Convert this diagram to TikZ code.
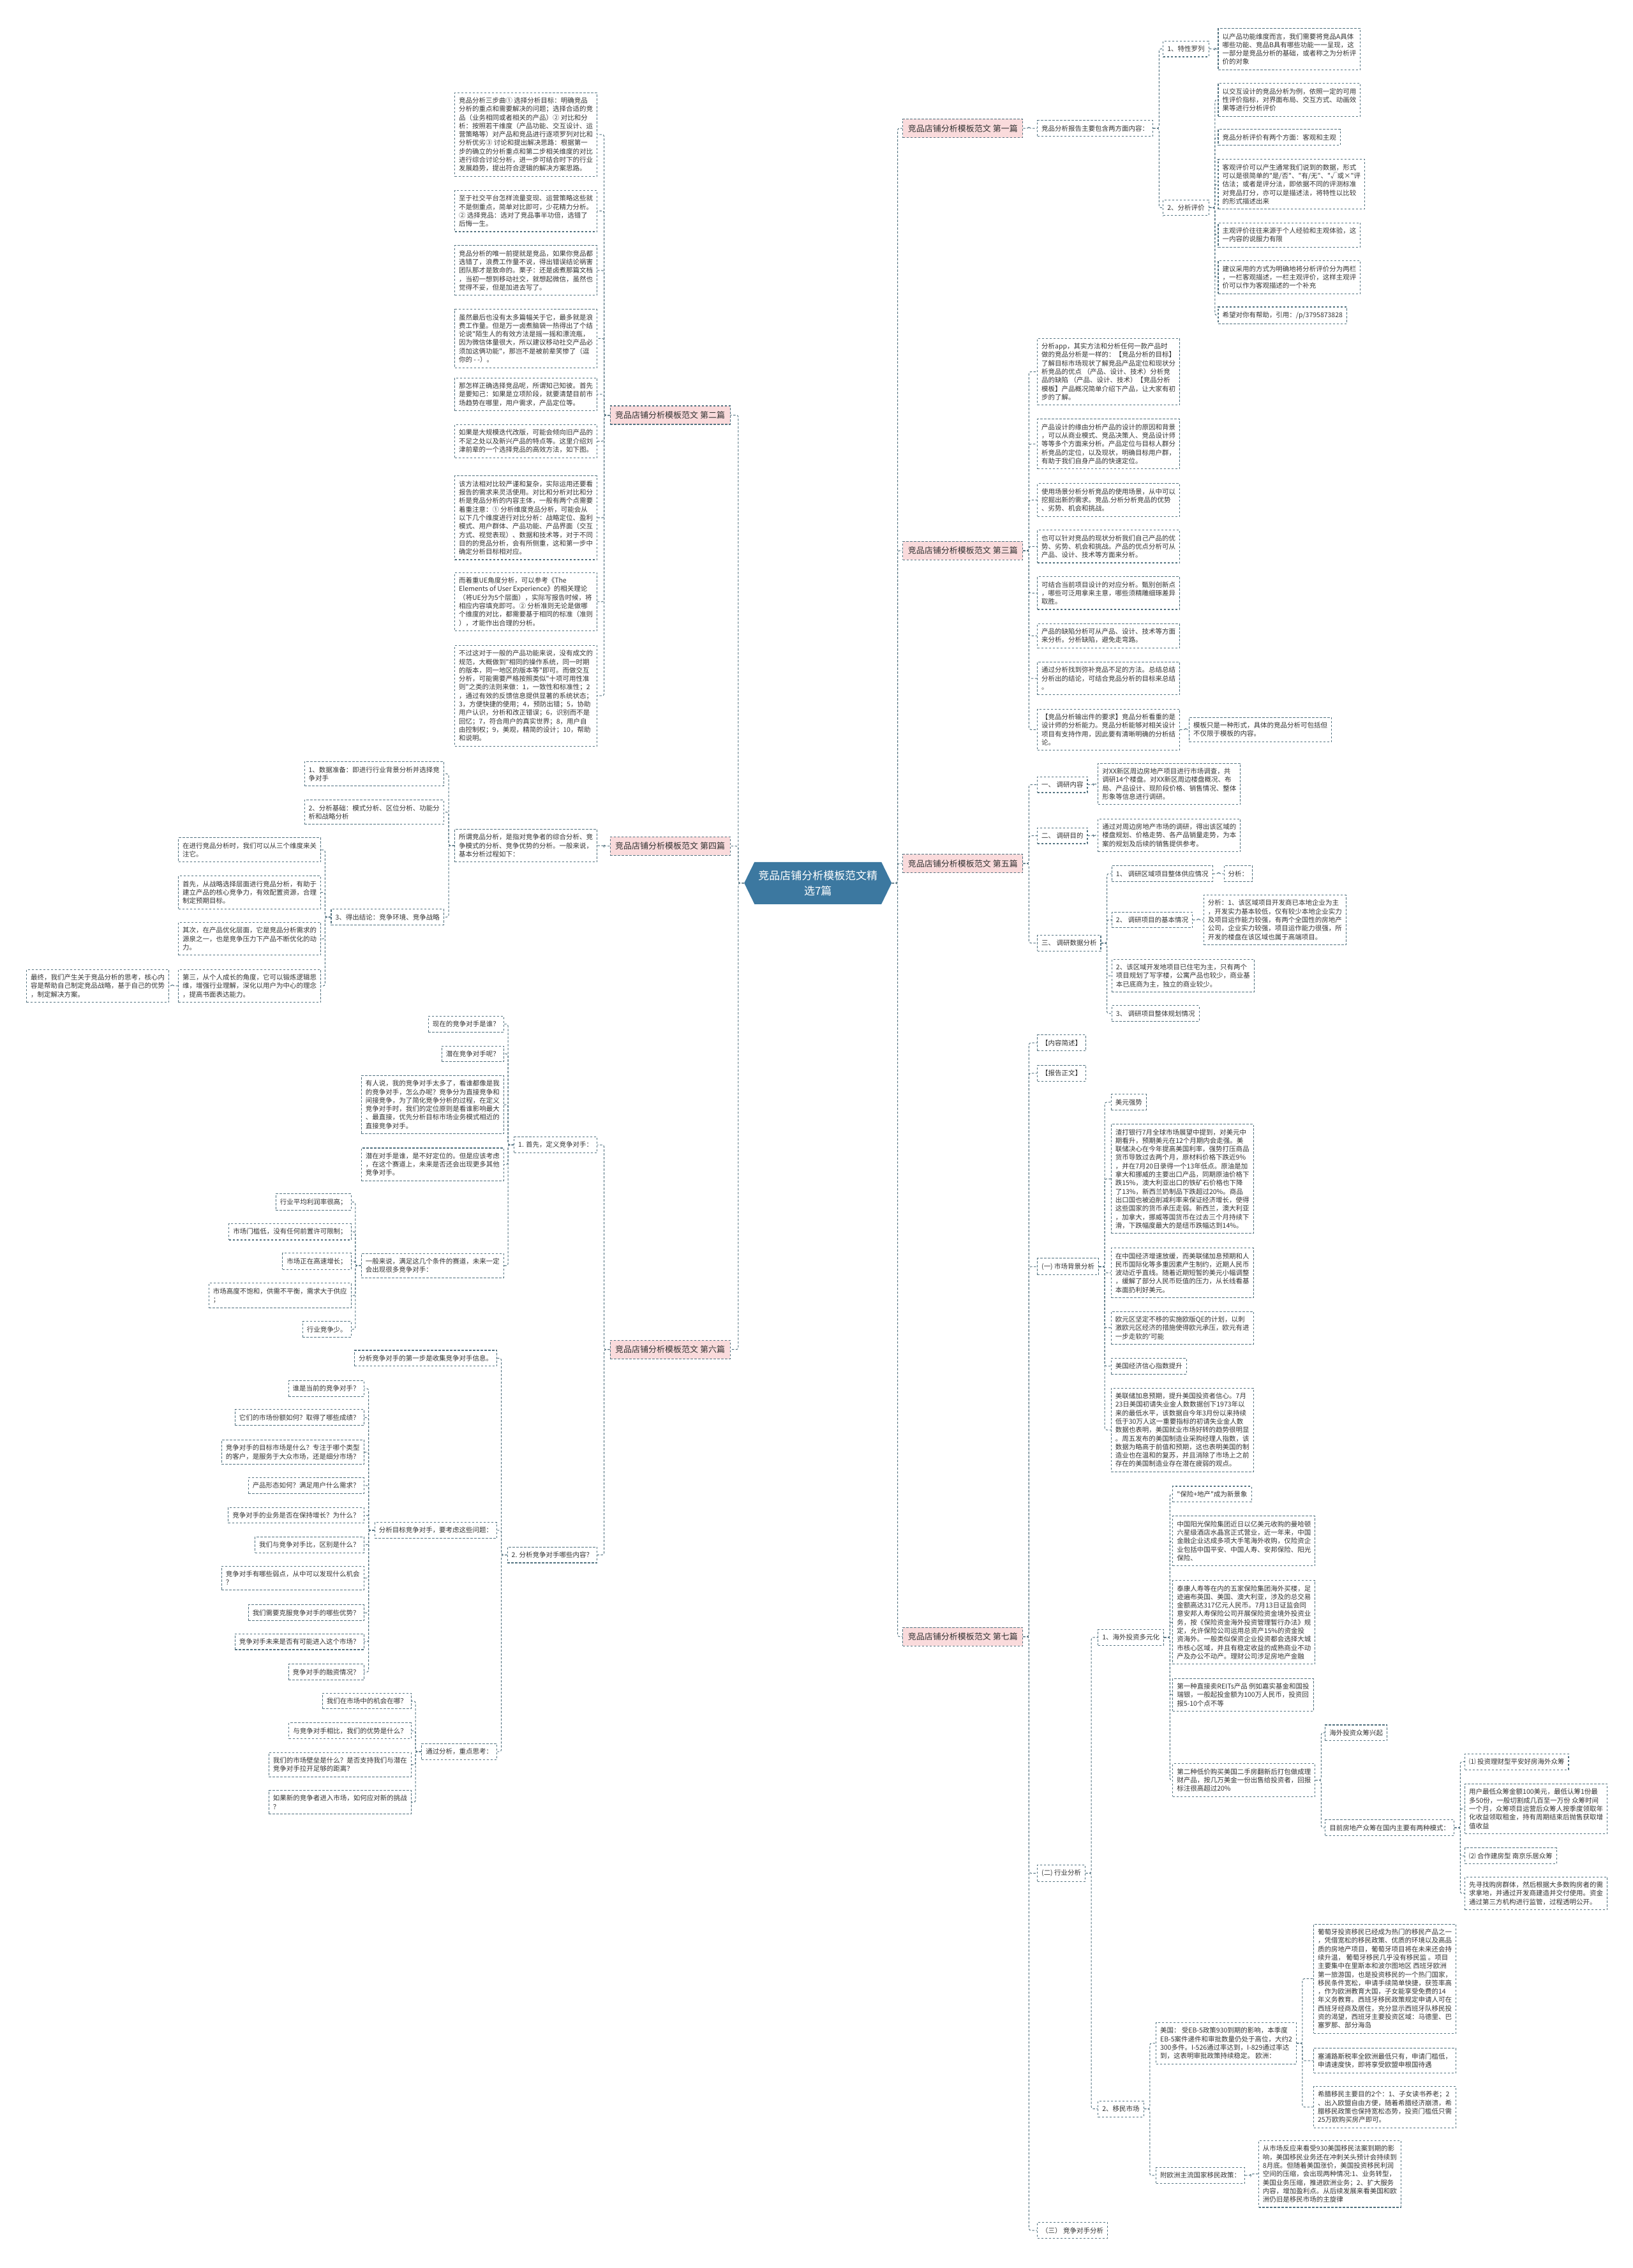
\documentclass[tikz,border=0pt]{standalone}
\usepackage{fontspec}
\newfontfamily\cjk{Noto Sans CJK SC}
\usetikzlibrary{shapes.symbols}
\definecolor{linkc}{RGB}{82,114,128}
\definecolor{pinkc}{RGB}{250,219,220}
\definecolor{rootc}{RGB}{60,120,160}
\definecolor{txtc}{RGB}{51,51,51}

\begin{document}
\begin{tikzpicture}[x=2.2675pt, y=-2.2675pt,
    mmbox/.style={draw=linkc, dash pattern=on 3.5pt off 2.5pt, line width=1.1pt, fill=white,
      text=txtc, font=\cjk\fontsize{10.5}{13.3}\selectfont, align=left,
      inner xsep=6.5pt, inner ysep=7.5pt},
    rbox/.style={mmbox, anchor=west},
    lbox/.style={mmbox, anchor=east},
    lvlone/.style={mmbox, fill=pinkc, font=\cjk\fontsize{13}{16}\selectfont,
      inner xsep=8pt, inner ysep=4pt, minimum height=29pt},
    rootnode/.style={signal, signal to=west and east, signal pointer angle=128, fill=rootc,
      text=white, font=\cjk\fontsize{17}{24}\selectfont, align=center,
      inner xsep=6pt, minimum height=66pt},
    link/.style={draw=linkc, dash pattern=on 3.5pt off 2.5pt, line width=1pt, rounded corners=3pt}]
    \useasboundingbox (0,0) rectangle (1129,1568);
    \fill[white] (0,0) rectangle (1129,1568);

    % centre
    \node[rootnode] (root) at (565.5,610.5) {竞品店铺分析模板范文精\\选7篇};

    % first
    \node[lvlone, anchor=west] (r1) at (624,88.7) {竞品店铺分析模板范文 第一篇};
    \node[rbox] (r1a) at (717,88.7) {竞品分析报告主要包含两方面内容：};
    \node[rbox] (r1b) at (804,33.8) {1、特性罗列};
    \node[rbox] (r1b1) at (842,34) {以产品功能维度而言，我们需要将竞品A具体\\哪些功能、竞品B具有哪些功能一一呈现，这\\一部分是竞品分析的基础，或者称之为分析评\\价的对象};
    \node[rbox] (r1c) at (804,143.6) {2、分析评价};
    \node[rbox] (r1c1) at (842,69) {以交互设计的竞品分析为例，依照一定的可用\\性评价指标，对界面布局、交互方式、动画效\\果等进行分析评价};
    \node[rbox] (r1c2) at (842,95) {竞品分析评价有两个方面：客观和主观};
    \node[rbox] (r1c3) at (842,127.4) {客观评价可以产生通常我们说到的数据，形式\\可以是很简单的"是/否"、"有/无"、"√或×"评\\估法；或者是评分法，即依据不同的评测标准\\对竞品打分，亦可以是描述法，将特性以比较\\的形式描述出来};
    \node[rbox] (r1c4) at (842,162.5) {主观评价往往来源于个人经验和主观体验，这\\一内容的说服力有限};
    \node[rbox] (r1c5) at (842,191.7) {建议采用的方式为明确地将分析评价分为两栏\\，一栏客观描述，一栏主观评价，这样主观评\\价可以作为客观描述的一个补充};
    \node[rbox] (r1c6) at (842,218) {希望对你有帮助，引用：/p/3795873828};

    % third
    \node[lvlone, anchor=west] (r3) at (624,380.7) {竞品店铺分析模板范文 第三篇};
    \node[rbox] (r3a) at (717,257) {分析app，其实方法和分析任何一款产品时\\做的竞品分析是一样的：【竞品分析的目标】\\了解目标市场现状了解竞品产品定位和现状分\\析竞品的优点 （产品、设计、技术）分析竞\\品的缺陷 （产品、设计、技术）【竞品分析\\模板】产品概况简单介绍下产品，让大家有初\\步的了解。};
    \node[rbox] (r3b) at (717,307) {产品设计的缘由分析产品的设计的原因和背景\\，可以从商业模式、竞品决策人、竞品设计师\\等等多个方面来分析。产品定位与目标人群分\\析竞品的定位，以及现状，明确目标用户群，\\有助于我们自身产品的快速定位。};
    \node[rbox] (r3c) at (717,345.7) {使用场景分析分析竞品的使用场景，从中可以\\挖掘出新的需求。竞品.分析分析竞品的优势\\、劣势、机会和挑战。};
    \node[rbox] (r3d) at (717,377.8) {也可以针对竞品的现状分析我们自己产品的优\\势、劣势、机会和挑战。产品的优点分析可从\\产品、设计、技术等方面来分析。};
    \node[rbox] (r3e) at (717,410) {可结合当前项目设计的对应分析。甄别创新点\\，哪些可泛用拿来主意，哪些须精雕细琢差异\\取胜。};
    \node[rbox] (r3f) at (717,439.6) {产品的缺陷分析可从产品、设计、技术等方面\\来分析。分析缺陷，避免走弯路。};
    \node[rbox] (r3g) at (717,469) {通过分析找到弥补竞品不足的方法。总结总结\\分析出的结论，可结合竞品分析的目标来总结\\。};
    \node[rbox] (r3h) at (717,504.4) {【竞品分析输出件的要求】竞品分析看重的是\\设计师的分析能力。竞品分析能够对相关设计\\项目有支持作用，因此要有清晰明确的分析结\\论。};
    \node[rbox] (r3h1) at (822,504.4) {模板只是一种形式，具体的竞品分析可包括但\\不仅限于模板的内容。};

    % fifth
    \node[lvlone, anchor=west] (r5) at (624,597) {竞品店铺分析模板范文 第五篇};
    \node[rbox] (r5a) at (717,542.5) {一、 调研内容};
    \node[rbox] (r5a1) at (759,542) {对XX新区周边房地产项目进行市场调查，共\\调研14个楼盘。对XX新区周边楼盘概况、布\\局、产品设计、现阶段价格、销售情况、整体\\形象等信息进行调研。};
    \node[rbox] (r5b) at (717,577.8) {二、 调研目的};
    \node[rbox] (r5b1) at (759,577.5) {通过对周边房地产市场的调研，得出该区域的\\楼盘规划、价格走势、各产品销量走势，为本\\案的规划及后续的销售提供参考。};
    \node[rbox] (r5c) at (717,652) {三、 调研数据分析};
    \node[rbox] (r5c1) at (768.5,604) {1、 调研区域项目整体供应情况};
    \node[rbox] (r5c1a) at (846,604) {分析：};
    \node[rbox] (r5c2) at (768.5,636) {2、 调研项目的基本情况};
    \node[rbox] (r5c2a) at (832,636) {分析：1、该区域项目开发商已本地企业为主\\，开发实力基本较低，仅有较少本地企业实力\\及项目运作能力较强，有两个全国性的房地产\\公司，企业实力较强，项目运作能力很强，所\\开发的楼盘在该区域也属于高端项目。};
    \node[rbox] (r5c3) at (768.5,674.6) {2、该区域开发地项目已住宅为主，只有两个\\项目规划了写字楼，公寓产品也较少，商业基\\本已底商为主，独立的商业较少。};
    \node[rbox] (r5c4) at (768.5,700.7) {3、 调研项目整体规划情况};

    % seventh
    \node[lvlone, anchor=west] (r7) at (624,1131.5) {竞品店铺分析模板范文 第七篇};
    \node[rbox] (r7a) at (717,721) {【内容简述】};
    \node[rbox] (r7b) at (717,742) {【报告正文】};
    \node[rbox] (r7c) at (717,875.7) {(一) 市场背景分析};
    \node[rbox] (r7c1) at (768,762) {美元强势};
    \node[rbox] (r7c2) at (768,815) {渣打银行7月全球市场展望中提到，对美元中\\期看升，预期美元在12个月期内会走强。美\\联储决心在今年提高美国利率，强势打压商品\\货币导致过去两个月，原材料价格下跌近9\%\\，并在7月20日录得一个13年低点。原油是加\\拿大和挪威的主要出口产品，同期原油价格下\\跌15\%，澳大利亚出口的铁矿石价格也下降\\了13\%，新西兰奶制品下跌超过20\%。商品\\出口国也被迫削减利率来保证经济增长，使得\\这些国家的货币承压走弱。新西兰，澳大利亚\\，加拿大，挪威等国货币在过去三个月持续下\\滑，下跌幅度最大的是纽币跌幅达到14\%。};
    \node[rbox] (r7c3) at (768,880) {在中国经济增速放缓，而美联储加息预期和人\\民币国际化等多重因素产生制约，近期人民币\\波动近乎直线。随着近期短暂的美元小幅调整\\，缓解了部分人民币贬值的压力，从长线看基\\本面扔利好美元。};
    \node[rbox] (r7c4) at (768,918) {欧元区坚定不移的实施欧版QE的计划，以刺\\激欧元区经济的措施使得欧元承压，欧元有进\\一步走软的'可能};
    \node[rbox] (r7c5) at (768,944.5) {美国经济信心指数提升};
    \node[rbox] (r7c6) at (768,988.6) {美联储加息预期，提升美国投资者信心。7月\\23日美国初请失业金人数数据创下1973年以\\来的最低水平，该数据自今年3月份以来持续\\低于30万人这一重要指标的初请失业金人数\\数据也表明，美国就业市场好转的趋势很明显\\。周五发布的美国制造业采购经理人指数，该\\数据为略高于前值和预期，这也表明美国的制\\造业也在温和的复苏，并且消除了市场上之前\\存在的美国制造业存在潜在疲弱的观点。};
    \node[rbox] (r7d) at (717,1295) {(二) 行业分析};
    \node[rbox] (r7d1) at (759,1132) {1、海外投资多元化};
    \node[rbox] (r7d1a) at (810.6,1033) {"保险+地产"成为新景象};
    \node[rbox] (r7d1b) at (810.6,1065.4) {中国阳光保险集团近日以亿美元收购的曼哈顿\\六星级酒店水晶宫正式营业，近一年来，中国\\金融企业达成多项大手笔海外收购，仅险资企\\业包括中国平安、中国人寿、安邦保险、阳光\\保险、};
    \node[rbox] (r7d1c) at (810.6,1121.6) {泰康人寿等在内的五家保险集团海外买楼，足\\迹遍布英国、美国、澳大利亚，涉及的总交易\\金额高达317亿元人民币。7月13日证监会同\\意安邦人寿保险公司开展保险资金境外投资业\\务，按《保险资金海外投资管理暂行办法》规\\定，允许保险公司运用总资产15\%的资金投\\资海外。一般类似保资企业投资都会选择大城\\市核心区域，并且有稳定收益的成熟商业不动\\产及办公不动产。理财公司涉足房地产金融};
    \node[rbox] (r7d1d) at (810.6,1171.7) {第一种直接卖REITs产品 例如嘉实基金和国投\\瑞银，一般起投金额为100万人民币，投资回\\报5-10个点不等};
    \node[rbox] (r7d1e) at (810.6,1230.7) {第二种低价购买美国二手房翻新后打包做成理\\财产品，按几万美金一份出售给投资者，回报\\标注很高超过20\%};
    \node[rbox] (r7d1e1) at (916,1198) {海外投资众筹兴起};
    \node[rbox] (r7d1e2) at (916,1263.6) {目前房地产众筹在国内主要有两种模式：};
    \node[rbox] (r7d1e2a) at (1012.6,1218) {⑴ 投资理财型平安好房海外众筹};
    \node[rbox] (r7d1e2b) at (1012.6,1250.5) {用户最低众筹金额100美元，最低认筹1份最\\多50份，一般切割成几百至一万份 众筹时间\\一个月，众筹项目运营后众筹人按季度领取年\\化收益领取租金，持有周期结束后抛售获取增\\值收益};
    \node[rbox] (r7d1e2c) at (1012.6,1283) {⑵ 合作建房型 南京乐居众筹};
    \node[rbox] (r7d1e2d) at (1012.6,1309) {先寻找购房群体，然后根据大多数购房者的需\\求拿地，并通过开发商建造并交付使用。资金\\通过第三方机构进行监管，过程透明公开。};
    \node[rbox] (r7d2) at (759,1458) {2、移民市场};
    \node[rbox] (r7d2a) at (799,1412.6) {美国： 受EB-5政策930到期的影响，本季度\\EB-5案件递件和审批数量仍处于高位，大约2\\300多件。I-526通过率达到，I-829通过率达\\到，这表明审批政策持续稳定。 欧洲：};
    \node[rbox] (r7d2a1) at (908,1368) {葡萄牙投资移民已经成为热门的移民产品之一\\，凭借宽松的移民政策、优质的环境以及高品\\质的房地产项目，葡萄牙项目将在未来还会持\\续升温， 葡萄牙移民几乎没有移民监 。项目\\主要集中在里斯本和波尔图地区 西班牙欧洲\\第一旅游国，也是投资移民的一个热门国家，\\移民条件宽松，申请手续简单快捷，获签率高\\，作为欧洲教育大国，子女能享受免费的14\\年义务教育。西班牙移民政策规定申请人可在\\西班牙经商及居住，充分显示西班牙队移民投\\资的渴望，西班牙主要投资区域：马德里、巴\\塞罗那、部分海岛};
    \node[rbox] (r7d2a2) at (908,1424.6) {塞浦路斯税率全欧洲最低只有，申请门槛低，\\申请速度快，即将享受欧盟申根国待遇};
    \node[rbox] (r7d2a3) at (908,1456.7) {希腊移民主要目的2个：1、子女读书养老；2\\、出入欧盟自由方便，随着希腊经济崩溃，希\\腊移民政策也保持宽松态势，投资门槛低只需\\25万欧购买房产即可。};
    \node[rbox] (r7d2b) at (799,1504) {附欧洲主流国家移民政策：};
    \node[rbox] (r7d2b1) at (870,1503) {从市场反应来看受930美国移民法案到期的影\\响，美国移民业务还在冲刺关头预计会持续到\\8月底。但随着美国涨价，美国投资移民利润\\空间的压缩，会出现两种情况:1、业务转型，\\美国业务压缩，推进欧洲业务；2、扩大服务\\内容，增加盈利点。从后续发展来看美国和欧\\洲仍旧是移民市场的主旋律};
    \node[rbox] (r7e) at (717,1542) {（三） 竞争对手分析};

    % second
    \node[lvlone, anchor=east] (l2) at (505,287) {竞品店铺分析模板范文 第二篇};
    \node[lbox] (l2a) at (413,93) {竞品分析三步曲① 选择分析目标：明确竞品\\分析的重点和需要解决的问题；选择合适的竞\\品（业务相同或者相关的产品）② 对比和分\\析：按照若干维度（产品功能、交互设计、运\\营策略等）对产品和竞品进行逐项罗列对比和\\分析优劣③ 讨论和提出解决思路：根据第一\\步的确立的分析重点和第二步相关维度的对比\\进行综合讨论分析，进一步可结合时下的行业\\发展趋势，提出符合逻辑的解决方案思路。};
    \node[lbox] (l2b) at (413,145.9) {至于社交平台怎样流量变现、运营策略这些就\\不是侧重点，简单对比即可，少花精力分析。\\② 选择竞品：选对了竞品事半功倍，选错了\\后悔一生。};
    \node[lbox] (l2c) at (413,187) {竞品分析的唯一前提就是竞品，如果你竞品都\\选错了，浪费工作量不说，得出错误结论祸害\\团队那才是致命的。栗子：还是卤煮那篇文档\\，当初一想到移动社交，就想起微信，虽然也\\觉得不妥，但是加进去写了。};
    \node[lbox] (l2d) at (413,234) {虽然最后也没有太多篇幅关于它，最多就是浪\\费工作量。但是万一卤煮脑袋一热得出了个结\\论说"陌生人的有效方法是摇一摇和漂流瓶，\\因为微信体量很大，所以建议移动社交产品必\\须加这俩功能"，那岂不是被前辈笑惨了（逗\\你的 - -）。};
    \node[lbox] (l2e) at (413,272.6) {那怎样正确选择竞品呢，所谓知己知彼。首先\\是要知己：如果是立项阶段，就要清楚目前市\\场趋势在哪里，用户需求，产品定位等。};
    \node[lbox] (l2f) at (413,305) {如果是大规模迭代改版，可能会倾向旧产品的\\不足之处以及新兴产品的特点等。这里介绍刘\\津前辈的一个选择竞品的高效方法，如下图。};
    \node[lbox] (l2g) at (413,358) {该方法相对比较严谨和复杂，实际运用还要看\\报告的需求来灵活使用。对比和分析对比和分\\析是竞品分析的内容主体，一般有两个点需要\\着重注意：① 分析维度竞品分析，可能会从\\以下几个维度进行对比分析：战略定位、盈利\\模式、用户群体、产品功能、产品界面（交互\\方式、视觉表现）、数据和技术等，对于不同\\目的的竞品分析，会有所侧重，这和第一步中\\确定分析目标相对应。};
    \node[lbox] (l2h) at (413,416) {而着重UE角度分析，可以参考《The\\Elements of User Experience》的相关理论\\（将UE分为5个层面），实际写报告时候，将\\相应内容填充即可。② 分析准则无论是做哪\\个维度的对比，都需要基于相同的标准（准则\\），才能作出合理的分析。};
    \node[lbox] (l2i) at (413,481) {不过这对于一般的产品功能来说，没有成文的\\规范，大概做到"相同的操作系统，同一时期\\的版本，同一地区的版本等"即可。而做交互\\分析，可能需要严格按照类似"十项可用性准\\则"之类的法则来做：1，一致性和标准性；2\\，通过有效的反馈信息提供显著的系统状态；\\3，方便快捷的使用；4，预防出错；5，协助\\用户认识，分析和改正错误；6，识别而不是\\回忆；7，符合用户的真实世界；8，用户自\\由控制权；9，美观，精简的设计；10，帮助\\和说明。};

    % fourth
    \node[lvlone, anchor=east] (l4) at (505,585) {竞品店铺分析模板范文 第四篇};
    \node[lbox] (l4a) at (413,584.6) {所谓竞品分析，是指对竞争者的综合分析、竞\\争模式的分析、竞争优势的分析。一般来说，\\基本分析过程如下：};
    \node[lbox] (l4a1) at (307,535) {1、数据准备：即进行行业背景分析并选择竞\\争对手};
    \node[lbox] (l4a2) at (307,561.5) {2、分析基础：模式分析、区位分析、功能分\\析和战略分析};
    \node[lbox] (l4a3) at (307,634) {3、得出结论：竞争环境、竞争战略};
    \node[lbox] (l4a3a) at (222,587.6) {在进行竞品分析时，我们可以从三个维度来关\\注它。};
    \node[lbox] (l4a3b) at (222,617) {首先，从战略选择层面进行竞品分析，有助于\\建立产品的核心竞争力，有效配置资源，合理\\制定预期目标。};
    \node[lbox] (l4a3c) at (222,649) {其次，在产品优化层面，它是竞品分析需求的\\源泉之一，也是竞争压力下产品不断优化的动\\力。};
    \node[lbox] (l4a3d) at (222,681.6) {第三，从个人成长的角度，它可以锻炼逻辑思\\维，增强行业理解，深化以用户为中心的理念\\，提高书面表达能力。};
    \node[lbox] (l4a3d1) at (117,681.6) {最终，我们产生关于竞品分析的思考，核心内\\容是帮助自己制定竞品战略，基于自己的优势\\，制定解决方案。};

    % sixth
    \node[lvlone, anchor=east] (l6) at (505,933) {竞品店铺分析模板范文 第六篇};
    \node[lbox] (l6a) at (413,791.5) {1. 首先，定义竞争对手：};
    \node[lbox] (l6a1) at (348.5,708) {现在的竞争对手是谁？};
    \node[lbox] (l6a2) at (348.5,728.6) {潜在竞争对手呢？};
    \node[lbox] (l6a3) at (348.5,763.7) {有人说，我的竞争对手太多了，看谁都像是我\\的竞争对手，怎么办呢？竞争分为直接竞争和\\间接竞争，为了简化竞争分析的过程，在定义\\竞争对手时，我们的定位原则是看谁影响最大\\、最直接，优先分析目标市场业务模式相近的\\直接竞争对手。};
    \node[lbox] (l6a4) at (348.5,805) {潜在对手是谁，是不好定位的。但是应该考虑\\，在这个赛道上，未来是否还会出现更多其他\\竞争对手。};
    \node[lbox] (l6a5) at (348.5,875) {一般来说，满足这几个条件的赛道，未来一定\\会出现很多竞争对手：};
    \node[lbox] (l6a5a) at (243,831) {行业平均利润率很高；};
    \node[lbox] (l6a5b) at (243,851.6) {市场门槛低，没有任何前置许可限制；};
    \node[lbox] (l6a5c) at (243,872) {市场正在高速增长；};
    \node[lbox] (l6a5d) at (243,895.7) {市场高度不饱和，供需不平衡，需求大于供应\\；};
    \node[lbox] (l6a5e) at (243,919) {行业竞争少。};
    \node[lbox] (l6b) at (413,1075) {2. 分析竞争对手哪些内容？};
    \node[lbox] (l6b1) at (343.8,939) {分析竞争对手的第一步是收集竞争对手信息。};
    \node[lbox] (l6b2) at (343.8,1058) {分析目标竞争对手，要考虑这些问题：};
    \node[lbox] (l6b2a) at (251.8,960) {谁是当前的竞争对手？};
    \node[lbox] (l6b2b) at (251.8,980) {它们的市场份额如何？取得了哪些成绩？};
    \node[lbox] (l6b2c) at (251.8,1004) {竞争对手的目标市场是什么？专注于哪个类型\\的客户，是服务于大众市场，还是细分市场？};
    \node[lbox] (l6b2d) at (251.8,1027) {产品形态如何？满足用户什么需求？};
    \node[lbox] (l6b2e) at (251.8,1047.6) {竞争对手的业务是否在保持增长？为什么？};
    \node[lbox] (l6b2f) at (251.8,1068) {我们与竞争对手比，区别是什么？};
    \node[lbox] (l6b2g) at (251.8,1091) {竞争对手有哪些弱点，从中可以发现什么机会\\？};
    \node[lbox] (l6b2h) at (251.8,1115) {我们需要克服竞争对手的哪些优势？};
    \node[lbox] (l6b2i) at (251.8,1135) {竞争对手未来是否有可能进入这个市场？};
    \node[lbox] (l6b2j) at (251.8,1156) {竞争对手的融资情况？};
    \node[lbox] (l6b3) at (343.8,1211) {通过分析，重点思考：};
    \node[lbox] (l6b3a) at (284.5,1176) {我们在市场中的机会在哪？};
    \node[lbox] (l6b3b) at (284.5,1196.6) {与竞争对手相比，我们的优势是什么？};
    \node[lbox] (l6b3c) at (284.5,1220) {我们的市场壁垒是什么？是否支持我们与潜在\\竞争对手拉开足够的距离？};
    \node[lbox] (l6b3d) at (284.5,1246) {如果新的竞争者进入市场，如何应对新的挑战\\？};

    % connectors, right side
    \foreach \p/\c in {root/r1, root/r3, root/r5, root/r7,
        r1/r1a, r1a/r1b, r1a/r1c, r1b/r1b1, r1c/r1c1, r1c/r1c2, r1c/r1c3, r1c/r1c4, r1c/r1c5, r1c/r1c6,
        r3/r3a, r3/r3b, r3/r3c, r3/r3d, r3/r3e, r3/r3f, r3/r3g, r3/r3h, r3h/r3h1,
        r5/r5a, r5/r5b, r5/r5c, r5a/r5a1, r5b/r5b1, r5c/r5c1, r5c/r5c2, r5c/r5c3, r5c/r5c4,
        r5c1/r5c1a, r5c2/r5c2a,
        r7/r7a, r7/r7b, r7/r7c, r7/r7d, r7/r7e,
        r7c/r7c1, r7c/r7c2, r7c/r7c3, r7c/r7c4, r7c/r7c5, r7c/r7c6,
        r7d/r7d1, r7d/r7d2, r7d1/r7d1a, r7d1/r7d1b, r7d1/r7d1c, r7d1/r7d1d, r7d1/r7d1e,
        r7d1e/r7d1e1, r7d1e/r7d1e2, r7d1e2/r7d1e2a, r7d1e2/r7d1e2b, r7d1e2/r7d1e2c, r7d1e2/r7d1e2d,
        r7d2/r7d2a, r7d2/r7d2b, r7d2a/r7d2a1, r7d2a/r7d2a2, r7d2a/r7d2a3, r7d2b/r7d2b1}
      \draw[link] (\p.east) -- ++(4,0) |- (\c.west);

    % connectors, left side
    \foreach \p/\c in {root/l2, root/l4, root/l6,
        l2/l2a, l2/l2b, l2/l2c, l2/l2d, l2/l2e, l2/l2f, l2/l2g, l2/l2h, l2/l2i,
        l4/l4a, l4a/l4a1, l4a/l4a2, l4a/l4a3, l4a3/l4a3a, l4a3/l4a3b, l4a3/l4a3c, l4a3/l4a3d, l4a3d/l4a3d1,
        l6/l6a, l6/l6b, l6a/l6a1, l6a/l6a2, l6a/l6a3, l6a/l6a4, l6a/l6a5,
        l6a5/l6a5a, l6a5/l6a5b, l6a5/l6a5c, l6a5/l6a5d, l6a5/l6a5e,
        l6b/l6b1, l6b/l6b2, l6b/l6b3,
        l6b2/l6b2a, l6b2/l6b2b, l6b2/l6b2c, l6b2/l6b2d, l6b2/l6b2e, l6b2/l6b2f, l6b2/l6b2g, l6b2/l6b2h,
        l6b2/l6b2i, l6b2/l6b2j,
        l6b3/l6b3a, l6b3/l6b3b, l6b3/l6b3c, l6b3/l6b3d}
      \draw[link] (\p.west) -- ++(-4,0) |- (\c.east);
\end{tikzpicture}
\end{document}
